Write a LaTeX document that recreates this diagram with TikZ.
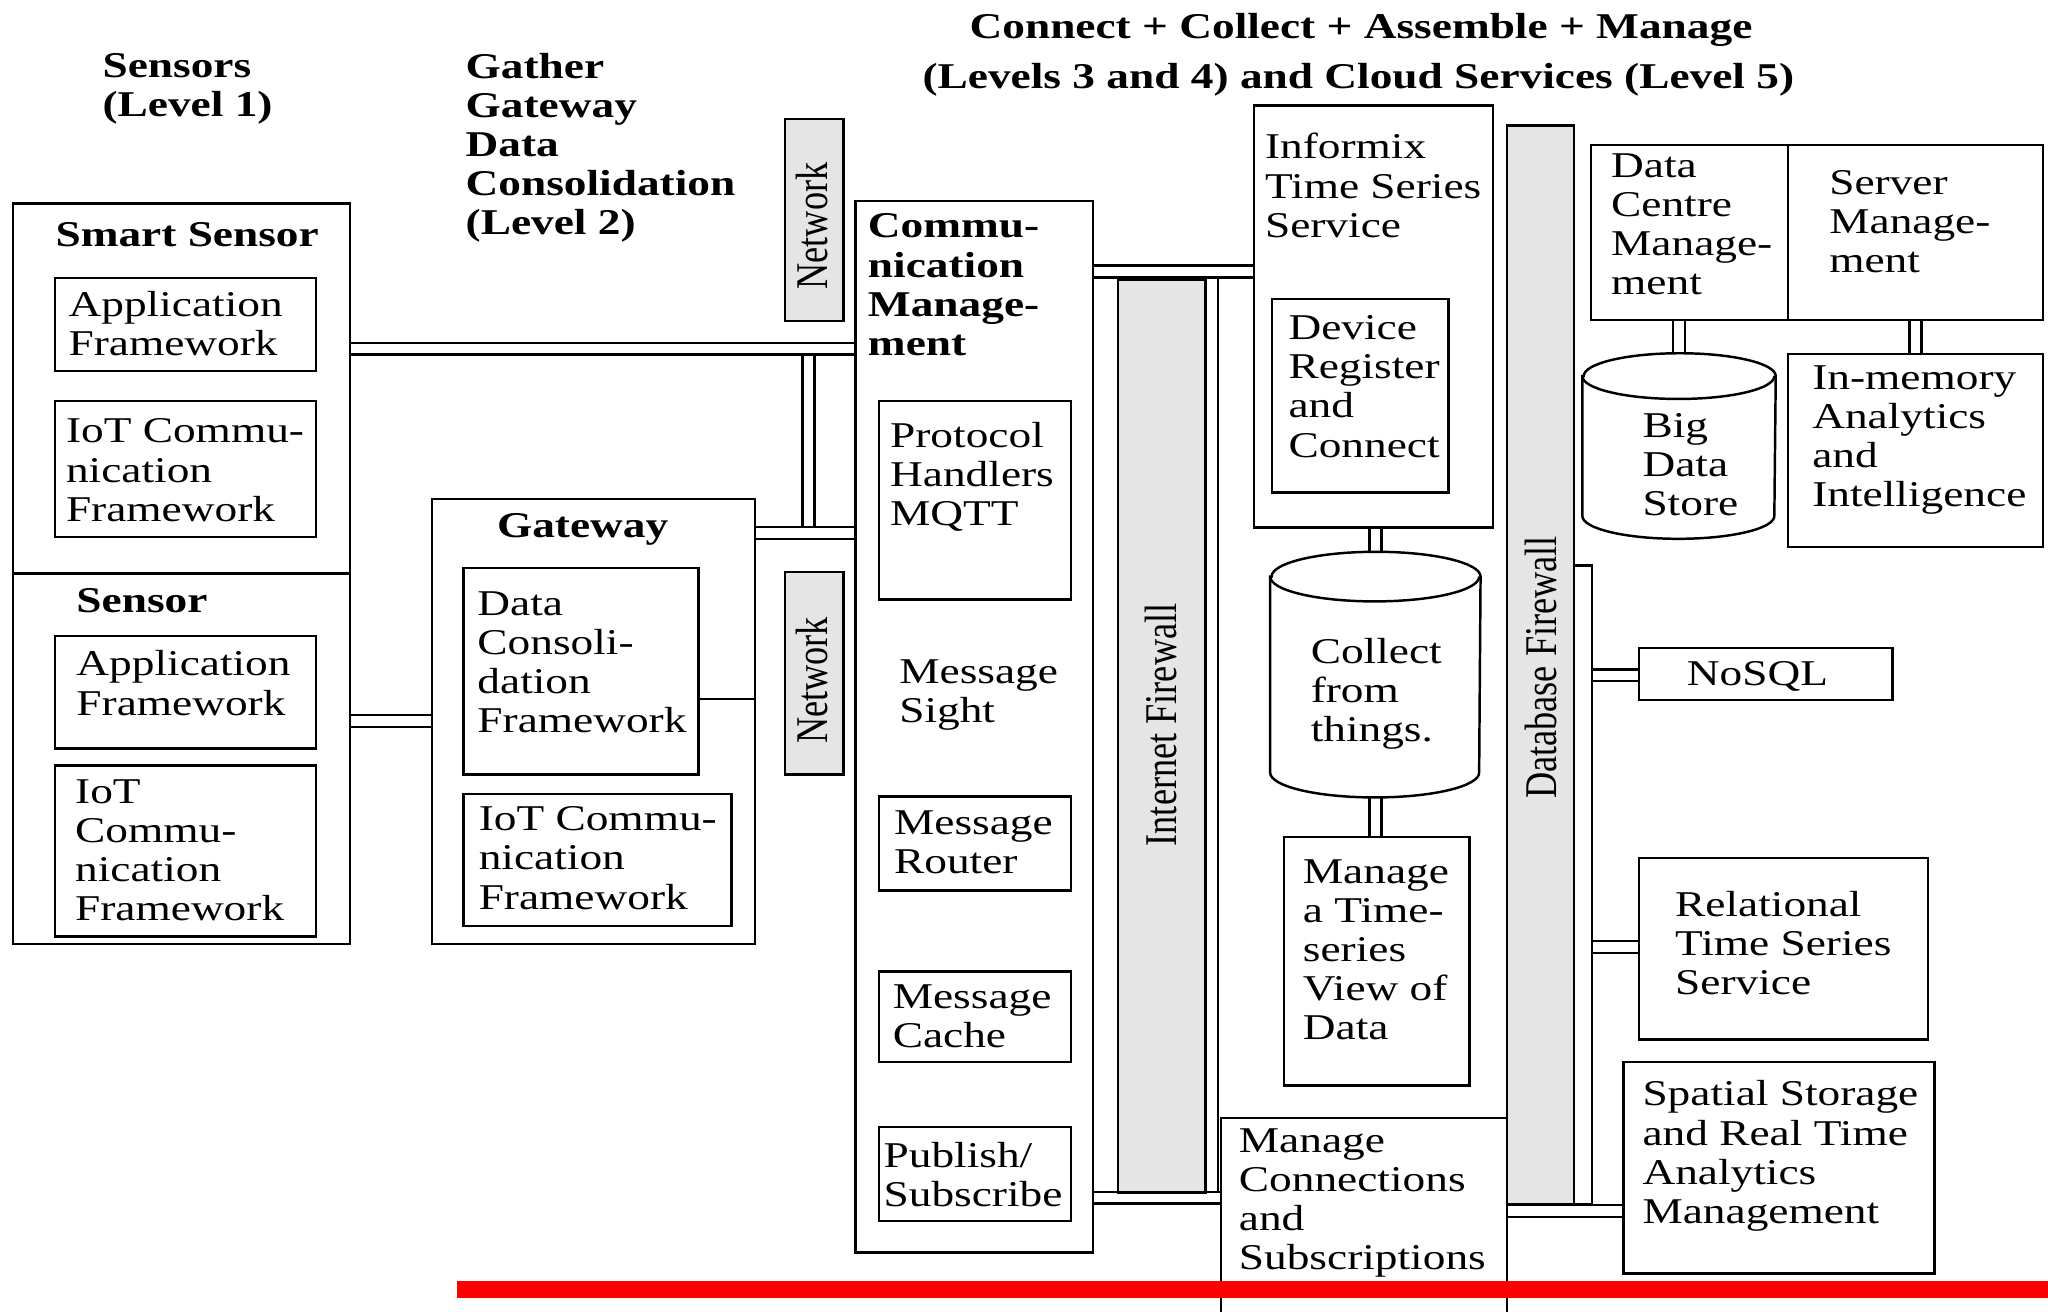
\documentclass[tikz,border=0pt]{standalone}
\usepackage{fontspec}
\setmainfont{Liberation Serif}
\usetikzlibrary{backgrounds}

\newcommand{\px}{0.1306mm}
\tikzset{
  box/.style={draw, line width=0.7pt, fill=white, inner sep=0pt, anchor=north west},
  wall/.style={box, fill=gray!20},
  spot/.style={inner sep=0pt},
  txt/.style={font=\fontsize{12.9}{13.9}\selectfont, align=left, inner sep=0pt, anchor=west, yscale=0.8},
  ttl/.style={txt, font=\fontsize{12.9}{13.9}\selectfont\bfseries},
  pipe/.style={double, double distance=0.95mm, line width=0.7pt},
}
% drum outline round a node: name, x radius, y radius
\newcommand{\drum}[3]{%
	\draw[line width=0.7pt, fill=white] ([yshift=-#3*\px]#1.north west) -- ([yshift=#3*\px]#1.south west)
		arc[start angle=180, end angle=360, x radius=#2*\px, y radius=#3*\px]
		-- ([yshift=-#3*\px]#1.north east)
		arc[start angle=0, end angle=180, x radius=#2*\px, y radius=#3*\px] -- cycle;
	\draw[line width=0.7pt] ([yshift=-#3*\px]#1.north west)
		arc[start angle=180, end angle=360, x radius=#2*\px, y radius=#3*\px];
}

\begin{document}
\begin{tikzpicture}[x=\px, y=-\px]
		\useasboundingbox (0,0) rectangle (1568,1004);
		\clip (0,0) rectangle (1568,1004);
		% level headings
		\node[ttl] (lvl1) at (78,68) {Sensors\\(Level 1)};
		\node[ttl] (lvl2) at (356,113) {Gather\\Gateway\\Data\\Consolidation\\(Level 2)};
		\node[ttl, anchor=center] (lvl3a) at (1042,23) {Connect + Collect + Assemble + Manage};
		\node[ttl, anchor=center] (lvl3b) at (1040,61) {(Levels 3 and 4) and Cloud Services (Level 5)};
		% boxes: name/left/top/right/bottom
		\foreach \n/\xa/\ya/\xb/\yb in {ss/9/155/267/438, sn/9/438/267/722, gw/330/381/577/722,
			comm/654/153/836/958, ifx/959/80/1142/403, mconn/934/855/1153/1040,
			dcm/1217/110/1368/244, srv/1368/110/1563/244, dbpipe/1204/432/1218/921,
			ssapp/41/212/241/283, sscom/41/306/241/410, sapp/41/486/241/572, scom/41/585/241/716,
			gdata/354/434/534/592, gcom/354/607/559/708,
			proto/672/306/819/458, router/672/609/819/681, cache/672/743/819/812, pubsub/672/862/819/934,
			devreg/973/228/1108/376, tsview/982/640/1124/830, imem/1368/270/1563/418,
			nosql/1254/495/1448/535, rel/1254/656/1475/795, spat/1242/812/1480/974} {
			\node[box, minimum width={(\xb-\xa)*\px}, minimum height={(\yb-\ya)*\px}] (\n) at (\xa,\ya) {};
		}
		\foreach \n/\xa/\ya/\xb/\yb in {net1/600/90/645/245, net2/600/437/645/592,
			ifw/855/213/922/912, dbfw/1153/95/1204/921} {
			\node[wall, minimum width={(\xb-\xa)*\px}, minimum height={(\yb-\ya)*\px}] (\n) at (\xa,\ya) {};
		}
		% data stores
		\node[spot, minimum width=160*\px, minimum height=187*\px] (collect) at (1053,516.5) {};
		\node[spot, minimum width=147*\px, minimum height=141*\px] (bigdata) at (1285.5,341.5) {};
		\drum{collect}{80}{19}
		\drum{bigdata}{73.5}{17.5}
		% titles of the big boxes
		\node[ttl] (ss-t) at (42,180) {Smart Sensor};
		\node[ttl] (sn-t) at (58,460) {Sensor};
		\node[ttl] (gw-t) at (380,405) {Gateway};
		\node[ttl] (comm-t) at (664,218) {Commu-\\nication\\Manage-\\ment};
		% texts: name/left/middle/text
		\foreach \n/\x/\y/\lbl in {ssapp/52/248/{Application\\Framework},
			sscom/50/360/{IoT Commu-\\nication\\Framework},
			sapp/58/523/{Application\\Framework},
			scom/57/651/{IoT\\Commu-\\nication\\Framework},
			gdata/365/507/{Data\\Consoli-\\dation\\Framework},
			gcom/366/657/{IoT Commu-\\nication\\Framework},
			proto/681/365/{Protocol\\Handlers\\MQTT},
			sight/688/532/{Message\\Sight},
			router/684/645/{Message\\Router},
			cache/683/778/{Message\\Cache},
			pubsub/676/899/{Publish/\\Subscribe},
			ifx/968/142/{Informix\\Time Series\\Service},
			devreg/986/296/{Device\\Register\\and\\Connect},
			collect/1003/531/{Collect\\from\\things.},
			tsview/997/727/{Manage\\a Time-\\series\\View of\\Data},
			mconn/948/921/{Manage\\Connections\\and\\Subscriptions},
			dcm/1233/172/{Data\\Centre\\Manage-\\ment},
			srv/1400/170/{Server\\Manage-\\ment},
			bigdata/1257/356/{Big\\Data\\Store},
			imem/1387/337/{In-memory\\Analytics\\and\\Intelligence},
			nosql/1291/518/{NoSQL},
			rel/1282/722/{Relational\\Time Series\\Service},
			spat/1257/885/{Spatial Storage\\and Real Time\\Analytics\\Management}} {
			\node[txt] (\n-t) at (\x,\y) {\lbl};
		}
		\node[txt, anchor=center, rotate=90] (net1-t) at (622,173) {Network};
		\node[txt, anchor=center, rotate=90] (net2-t) at (622,521) {Network};
		\node[txt, anchor=center, rotate=90] (ifw-t) at (889,555) {Internet Firewall};
		\node[txt, anchor=center, rotate=90] (dbfw-t) at (1180,511) {Database Firewall};
		\draw[line width=0.7pt] (gdata.east |- 0,535) -- (gw.east |- 0,535);
		% pipes behind the boxes
		\begin{pgfonlayer}{background}
			\draw[pipe] (619,267) -- (619,408);
			\draw[pipe] (928,208) -- (928,917);
			\draw[pipe] (ss.east |- 0,267) -- (comm.west |- 0,267);
			\draw[pipe] (gw.east |- 0,408) -- (comm.west |- 0,408);
			\draw[pipe] (sn.east |- 0,552) -- (gw.west |- 0,552);
			\draw[pipe] (comm.east |- 0,208) -- (ifx.west |- 0,208);
			\draw[pipe] (comm.east |- 0,917) -- (mconn.west |- 0,917);
			\draw[pipe] (collect.center |- ifx.south) -- (collect.center);
			\draw[pipe] (collect.center) -- (collect.center |- tsview.north);
			\draw[pipe] (bigdata.center |- dcm.south) -- (bigdata.center);
			\draw[pipe] (srv.south) -- (imem.north);
			\draw[pipe] (dbpipe.east |- 0,517) -- (nosql.west |- 0,517);
			\draw[pipe] (dbpipe.east |- 0,725) -- (rel.west |- 0,725);
			\draw[pipe] (mconn.east |- 0,927) -- (spat.west |- 0,927);
		\end{pgfonlayer}
		\fill[red] (350,981) rectangle (1568,994);
	\end{tikzpicture}
\end{document}
